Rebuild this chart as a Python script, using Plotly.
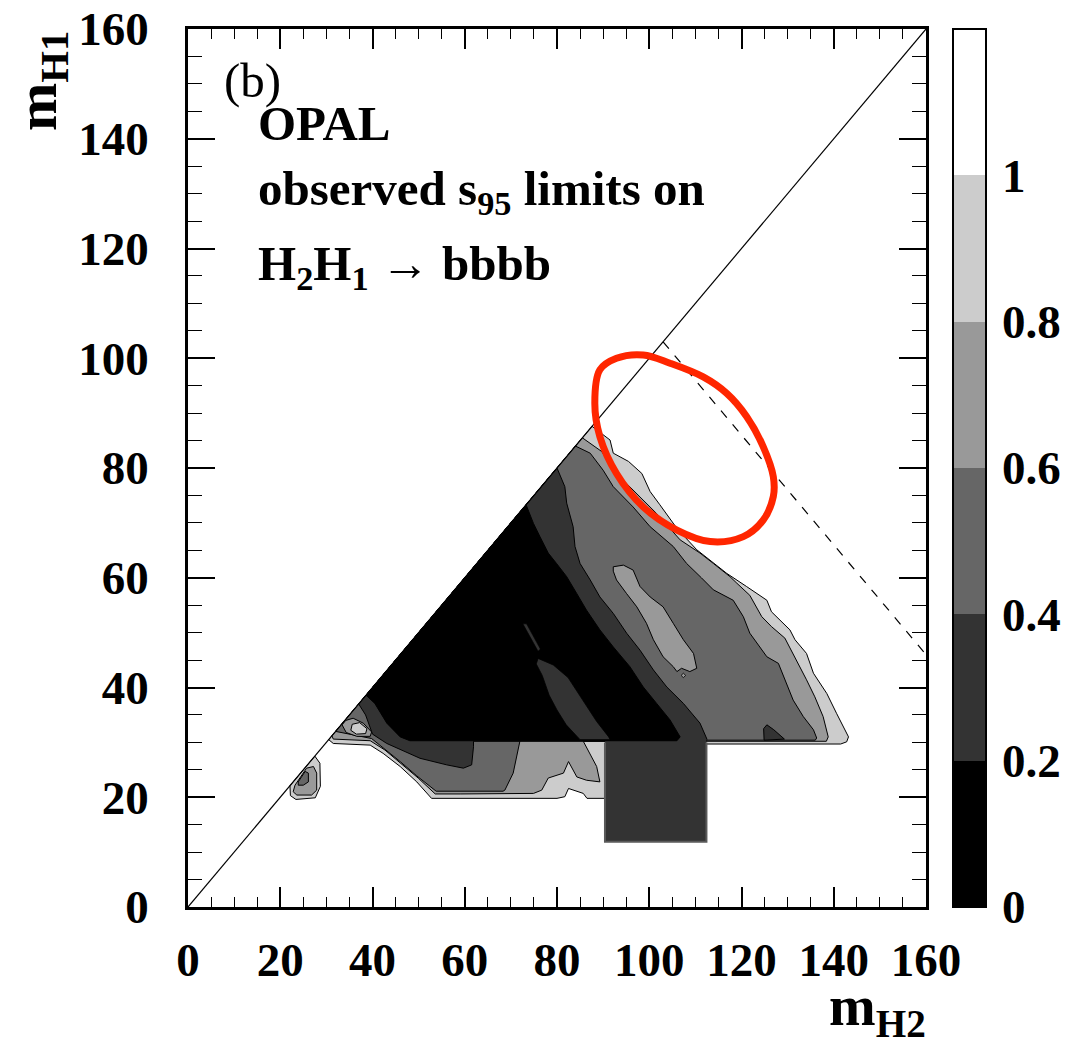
import plotly.graph_objects as go

# ---------------- data (m_H2, m_H1 in GeV) ----------------
# s95 < 1.0 region (light grey)
lvl10_x = [87.6, 91.5, 92.2, 95.5, 98.4, 100.2, 102.3, 106.0, 110.3, 113.2, 116.8, 121.1, 125.5, 126.5, 130.5,
           131.6, 134.1, 135.6, 138.5, 140.6, 143.2, 142.8, 141.5, 90.4, 90.4, 86.5, 85.7, 82.5, 81.7, 80.0,
           52.8, 49.6, 46.0, 42.3, 39.5, 31.5, 30.5]
lvl10_y = [87.6, 85.1, 82.7, 81.2, 79.0, 75.7, 73.3, 69.0, 65.1, 63.2, 60.8, 58.4, 55.9, 53.8, 50.5,
           48.7, 46.2, 42.6, 38.9, 35.3, 31.0, 30.1, 29.7, 29.7, 19.8, 19.8, 20.7, 21.6, 20.1, 19.8,
           19.8, 22.8, 25.6, 28.0, 29.5, 29.8, 30.5]
# s95 < 0.8
lvl08_x = [85.5, 89.7, 92.9, 97.3, 101.6, 106.7, 111.0, 113.9, 117.5, 119.0, 121.8, 124.4, 126.5, 129.4, 131.2,
           132.7, 134.1, 135.9, 137.7, 138.8, 138.4, 85.7, 88.6, 89.3, 86.4, 84.3, 82.5, 81.4, 78.1, 76.7,
           74.9, 59.0, 53.6, 49.9, 46.3, 42.7, 39.5, 31.5, 31.2]
lvl08_y = [85.5, 83.0, 79.0, 75.4, 71.7, 66.9, 64.5, 62.6, 60.2, 59.0, 56.8, 52.9, 51.1, 49.0, 46.2,
           43.8, 41.4, 38.3, 34.7, 31.0, 30.2, 30.2, 25.6, 22.8, 23.1, 23.7, 26.5, 24.4, 23.5, 21.3,
           20.7, 20.6, 20.6, 23.5, 26.1, 28.6, 30.3, 30.6, 31.2]
# s95 < 0.6
lvl06_x = [84.0, 87.2, 90.0, 92.2, 96.5, 100.2, 105.2, 108.1, 111.3, 113.9, 118.2, 120.4, 121.8, 125.5, 128.0,
           129.8, 131.2, 133.4, 135.6, 136.3, 136.0, 72.0, 70.5, 68.7, 68.3, 53.8, 49.6, 46.0, 42.3, 39.8, 32.0]
lvl06_y = [84.0, 82.7, 79.6, 76.6, 72.9, 69.3, 65.7, 62.6, 60.0, 57.8, 55.9, 52.9, 49.9, 45.6, 44.4,
           40.8, 37.7, 34.7, 32.3, 30.8, 30.4, 30.4, 24.4, 21.3, 21.1, 21.1, 23.9, 26.5, 29.1, 30.7, 32.0]
# s95 < 0.4
lvl04_x = [80.0, 81.7, 82.1, 83.5, 83.9, 85.0, 87.2, 89.3, 92.2, 95.1, 98.0, 100.9, 103.8, 107.4, 111.0,
           112.5, 112.4, 61.9, 61.9, 61.5, 59.7, 56.1, 50.3, 43.1, 40.0, 38.5, 37.0]
lvl04_y = [80.0, 76.6, 73.6, 69.3, 65.7, 62.6, 59.6, 56.5, 53.5, 49.9, 46.8, 43.2, 40.1, 37.1, 33.5,
           30.6, 30.2, 30.2, 29.2, 25.9, 25.3, 25.9, 27.1, 29.8, 31.5, 35.0, 37.0]
# s95 < 0.2
lvl02_x = [73.3, 74.9, 76.3, 78.1, 79.9, 82.1, 84.3, 86.4, 89.3, 92.2, 95.8, 98.7, 101.6, 104.5, 106.7,
           106.0, 48.1, 46.0, 43.1, 40.5, 38.6]
lvl02_y = [73.3, 69.9, 67.5, 64.5, 62.6, 60.2, 57.1, 54.1, 50.5, 47.4, 43.8, 40.1, 37.1, 34.1, 31.0,
           30.3, 30.3, 31.0, 33.5, 37.1, 38.6]

# islands
isl_dark_x = [75.9, 79.2, 82.4, 84.6, 86.5, 88.6, 91.2, 91.5, 85.0, 82.0, 80.0, 78.3, 76.8, 75.5]
isl_dark_y = [45.3, 44.1, 41.8, 39.0, 36.6, 33.8, 31.0, 30.5, 30.5, 33.2, 35.9, 38.6, 42.2, 44.3]
sliver_x = [72.6, 73.4, 76.4, 75.9]
sliver_y = [51.6, 51.6, 47.0, 46.6]
isl_mid_x = [92.2, 94.4, 96.5, 98.0, 100.2, 103.0, 105.2, 107.4, 109.6, 110.3, 108.8, 107.0, 106.0, 105.2,
             103.0, 100.9, 99.4, 97.3, 95.1, 92.9, 92.2]
isl_mid_y = [62.0, 62.3, 61.4, 58.4, 56.5, 54.7, 51.7, 48.7, 46.2, 43.5, 42.9, 43.5, 42.9, 43.8,
             45.6, 48.7, 51.7, 54.7, 57.1, 59.6, 61.2]
dot_x = [106.9, 107.4, 107.9, 107.4]
dot_y = [42.2, 42.6, 42.2, 41.8]
isl_br_x = [124.9, 124.8, 125.5, 127.0, 129.3]
isl_br_y = [30.4, 32.5, 33.2, 32.3, 30.6]
isl_ll_x = [34.2, 35.8, 38.0, 39.8, 39.5, 36.6, 34.3, 33.4]
isl_ll_y = [34.0, 34.4, 33.5, 31.9, 31.1, 31.1, 31.8, 33.2]
isl_ll2_x = [35.6, 37.2, 38.8, 38.5, 36.5, 35.3]
isl_ll2_y = [33.3, 33.6, 32.5, 31.6, 31.5, 32.2]
blob1_x = [22.1, 27.5, 28.6, 28.7, 27.6, 23.4, 22.2]
blob1_y = [22.1, 27.5, 26.2, 22.0, 19.9, 19.6, 20.3]
blob2_x = [23.2, 25.7, 27.2, 27.9, 27.9, 26.8, 23.6, 22.8]
blob2_y = [22.2, 25.3, 25.6, 24.4, 21.3, 20.4, 20.4, 21.0]
blob3_x = [23.9, 25.4, 26.1, 26.1, 25.0, 23.9]
blob3_y = [22.8, 24.7, 24.4, 22.8, 22.2, 22.2]
rect_x = [90.4, 112.4, 112.4, 90.4]
rect_y = [30.6, 30.6, 11.9, 11.9]
rect_edge_x = [90.4, 90.4, 112.4, 112.4]
rect_edge_y = [30.0, 11.9, 11.9, 30.0]

# red ellipse (ring centre line)
ell_x = [98.7, 104.5, 111.7, 116.8, 121.1, 124.7, 126.9, 126.9, 124.7, 120.4, 113.2, 106.0, 98.7, 92.9,
         89.3, 88.2, 89.3, 92.9, 98.7]
ell_y = [100.6, 99.1, 96.6, 93.6, 89.4, 83.9, 78.4, 74.8, 70.5, 67.5, 66.6, 68.7, 72.9, 79.0,
         85.7, 91.8, 97.9, 100.0, 100.6]

diag_x = [0, 160]
diag_y = [0, 160]
kin_x = [103, 160]
kin_y = [103, 46]

level_ticks = [0, 0.2, 0.4, 0.6, 0.8, 1.0]
level_text = ["0", "0.2", "0.4", "0.6", "0.8", "1"]
axis_ticks = [0, 20, 40, 60, 80, 100, 120, 140, 160]

C000, C020, C040, C060, C080, C100 = "#000000", "#333333", "#666666", "#999999", "#cccccc", "#ffffff"
FONT = "Liberation Serif"

fig = go.Figure()


def poly(xs, ys, color, lw=1.0, lc="black"):
    fig.add_trace(go.Scatter(x=xs + xs[:1], y=ys + ys[:1], mode="lines", fill="toself", fillcolor=color,
                             line=dict(color=lc, width=lw), hoverinfo="skip", showlegend=False))


poly(lvl10_x, lvl10_y, C080)
poly(lvl08_x, lvl08_y, C060)
poly(lvl06_x, lvl06_y, C040)
poly(lvl04_x, lvl04_y, C020)
poly(rect_x, rect_y, C020, lw=0, lc=C020)
fig.add_trace(go.Scatter(x=rect_edge_x, y=rect_edge_y, mode="lines", line=dict(color="#5a5a5a", width=2),
                         hoverinfo="skip", showlegend=False))
poly(lvl02_x, lvl02_y, C000)
poly(isl_dark_x, isl_dark_y, C020, lw=0.8)
poly(sliver_x, sliver_y, C020, lw=0.6)
poly(isl_mid_x, isl_mid_y, C060)
poly(dot_x, dot_y, C060, lw=0.8)
poly(isl_br_x, isl_br_y, C020)
poly(isl_ll_x, isl_ll_y, C060)
poly(isl_ll2_x, isl_ll2_y, C080)
poly(blob1_x, blob1_y, C080)
poly(blob2_x, blob2_y, C060)
poly(blob3_x, blob3_y, C040)

fig.add_trace(go.Scatter(x=diag_x, y=diag_y, mode="lines", line=dict(color="black", width=1.2),
                         hoverinfo="skip", showlegend=False))
fig.add_trace(go.Scatter(x=kin_x, y=kin_y, mode="lines", line=dict(color="black", width=1.2, dash="dash"),
                         hoverinfo="skip", showlegend=False))
fig.add_trace(go.Scatter(x=ell_x, y=ell_y, mode="lines", line=dict(color="rgb(255,38,0)", width=7, shape="spline"),
                         hoverinfo="skip", showlegend=False))

# colour bar (discrete levels)
cs = [[0, C000], [1 / 6, C000], [1 / 6, C020], [2 / 6, C020], [2 / 6, C040], [3 / 6, C040],
      [3 / 6, C060], [4 / 6, C060], [4 / 6, C080], [5 / 6, C080], [5 / 6, C100], [1, C100]]
fig.add_trace(go.Scatter(
    x=[-50, -50], y=[-50, -50], mode="markers", hoverinfo="skip", showlegend=False,
    marker=dict(size=1, color=[0, 1.2], cmin=0, cmax=1.2, colorscale=cs, showscale=True,
                colorbar=dict(x=(952.7 - 188) / 738, xanchor="left", xpad=0, ypad=0, y=0.5, yanchor="middle",
                              len=1, lenmode="fraction", thickness=33, outlinewidth=2, outlinecolor="black",
                              tickvals=level_ticks, ticktext=level_text, ticks="outside", ticklen=6,
                              tickcolor="rgba(0,0,0,0)",
                              tickfont=dict(family=FONT, size=47, color="black", weight="bold")))))

axis_common = dict(range=[0, 160], showgrid=False, zeroline=False, showline=True, linecolor="black",
                   linewidth=2.5, mirror="allticks", ticks="inside", tickwidth=1.5, tickcolor="black",
                   automargin=False,
                   tickvals=axis_ticks, tickfont=dict(family=FONT, size=47, color="black", weight="bold"))
fig.update_xaxes(**axis_common, ticklen=20, ticklabelstandoff=10,
                 minor=dict(dtick=5, ticklen=10, ticks="inside", tickwidth=1.2, tickcolor="black"))
fig.update_yaxes(**axis_common, ticklen=27, ticklabelstandoff=27,
                 minor=dict(dtick=5, ticklen=14, ticks="inside", tickwidth=1.2, tickcolor="black"))

W, H = 738, 878


def px(x):
    return (x - 188) / W


def py(y):
    return (907 - y) / H


TXT = 49
anns = [
    dict(text="(b)", x=px(222), y=py(80), xanchor="left", yanchor="middle",
         font=dict(family=FONT, size=TXT, color="black")),
    dict(text="<b>OPAL</b>", x=px(256), y=py(123), xanchor="left", yanchor="middle",
         font=dict(family=FONT, size=TXT, color="black")),
    dict(text="<b>observed s<sub>95</sub> limits on</b>", x=px(256), y=py(192), xanchor="left", yanchor="middle",
         font=dict(family=FONT, size=TXT, color="black")),
    dict(text="<b>H<sub>2</sub>H<sub>1</sub> \u2192 bbbb</b>", x=px(256), y=py(267), xanchor="left",
         yanchor="middle", font=dict(family=FONT, size=TXT, color="black")),
    dict(text="<b>m<sub>H1</sub></b>", x=px(40), y=py(29), xanchor="center", yanchor="top", textangle=-90,
         font=dict(family=FONT, size=58, color="black")),
    dict(text="<b>m<sub>H2</sub></b>", x=px(928), y=py(1047), xanchor="right", yanchor="bottom",
         font=dict(family=FONT, size=56, color="black")),
]
for a in anns:
    a.update(xref="paper", yref="paper", showarrow=False)

fig.update_layout(width=1091, height=1048, margin=dict(l=188, r=165, t=29, b=141, autoexpand=False),
                  paper_bgcolor="white", plot_bgcolor="white", annotations=anns)
fig.write_html("out.html")
